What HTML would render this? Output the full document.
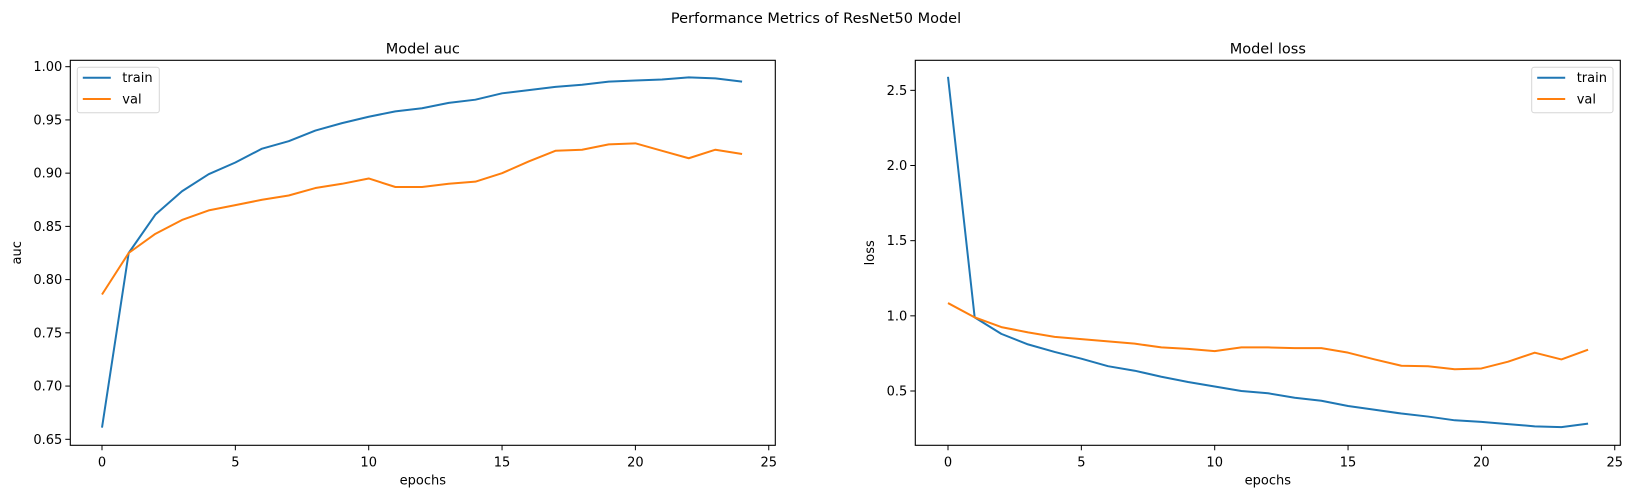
<!DOCTYPE html>
<html><head><meta charset="utf-8"><style>
body{margin:0;background:#fff}
svg{display:block;font-family:"DejaVu Sans","Liberation Sans",sans-serif}
</style></head><body>
<svg id="fig" width="1633" height="498" viewBox="0 0 1633 498" xmlns="http://www.w3.org/2000/svg">
<rect width="1633" height="498" fill="#fff"/>
<text x="816" y="23" font-size="14.5" text-anchor="middle">Performance Metrics of ResNet50 Model</text>
</svg>
<script>
const epochs = [0,1,2,3,4,5,6,7,8,9,10,11,12,13,14,15,16,17,18,19,20,21,22,23,24];
const aucTrain = [0.661,0.825,0.861,0.883,0.899,0.910,0.923,0.930,0.940,0.947,0.953,0.958,0.961,0.966,0.969,0.975,0.978,0.981,0.983,0.986,0.987,0.988,0.990,0.989,0.986];
const aucVal = [0.786,0.825,0.843,0.856,0.865,0.870,0.875,0.879,0.886,0.890,0.895,0.887,0.887,0.890,0.892,0.900,0.911,0.921,0.922,0.927,0.928,0.921,0.914,0.922,0.918];
const lossTrain = [2.59,0.99,0.88,0.81,0.76,0.715,0.665,0.635,0.595,0.56,0.53,0.50,0.485,0.455,0.435,0.400,0.375,0.350,0.330,0.305,0.295,0.280,0.265,0.260,0.283];
const lossVal = [1.085,0.99,0.925,0.89,0.86,0.845,0.83,0.815,0.79,0.78,0.765,0.79,0.79,0.785,0.785,0.755,0.71,0.668,0.665,0.645,0.65,0.695,0.755,0.71,0.775];
const xTicks = [0,5,10,15,20,25];
const aucTicks = [0.65,0.70,0.75,0.80,0.85,0.90,0.95,1.00];
const lossTicks = [0.5,1.0,1.5,2.0,2.5];

const NS="http://www.w3.org/2000/svg";
const svg=document.getElementById('fig');
function mk(tag,attrs,parent){const e=document.createElementNS(NS,tag);for(const k in attrs)e.setAttribute(k,attrs[k]);(parent||svg).appendChild(e);return e;}

function panel(cfg){
  const g=mk('g',{});
  
  
  const xs=v=>cfg.x0+v*cfg.xu;
  const ys=v=>cfg.yRef-(v-cfg.vRef)*cfg.yu;
  // series
  const series=[[cfg.train,'#1f77b4','train-line'],[cfg.val,'#ff7f0e','val-line']];
  series.forEach(([arr,col,nm])=>{
    const p=mk('polyline',{points:arr.map((v,i)=>xs(epochs[i]).toFixed(2)+','+ys(v).toFixed(2)).join(' '),fill:'none',stroke:col,'stroke-width':2,'stroke-linejoin':'round'},g);
    
    
  });
  // frame
  const fr=mk('rect',{x:cfg.L,y:cfg.T,width:cfg.R-cfg.L,height:cfg.B-cfg.T,fill:'none',stroke:'#000','stroke-width':1.1},g);
  
  
  // x ticks
  xTicks.forEach(t=>{
    const x=xs(t);
    mk('line',{x1:x,y1:cfg.B,x2:x,y2:cfg.B+5,stroke:'#000','stroke-width':1},g);
    const tx=mk('text',{x:x,y:cfg.B+21,'font-size':13,'text-anchor':'middle'},g);
    tx.textContent=t;
    
    
  });
  cfg.ticks.forEach(t=>{
    const y=ys(t);
    mk('line',{x1:cfg.L-5,y1:y,x2:cfg.L,y2:y,stroke:'#000','stroke-width':1},g);
    const tx=mk('text',{x:cfg.L-8,y:y+4.5,'font-size':13,'text-anchor':'end'},g);
    tx.textContent=t.toFixed(cfg.dec);
    
    
  });
  const ti=mk('text',{x:(cfg.L+cfg.R)/2,y:cfg.T-7,'font-size':14.5,'text-anchor':'middle'},g);
  ti.textContent=cfg.title;
  
  
  const xl=mk('text',{x:(cfg.L+cfg.R)/2,y:cfg.B+39,'font-size':13,'text-anchor':'middle'},g);
  xl.textContent='epochs';
  
  
  const yl=mk('text',{x:cfg.ylx,y:(cfg.T+cfg.B)/2,'font-size':13,'text-anchor':'middle',transform:`rotate(-90 ${cfg.ylx} ${(cfg.T+cfg.B)/2})`},g);
  yl.textContent=cfg.ylab;
  
  
  // legend
  const lg=mk('g',{},g);
  
  
  mk('rect',{x:cfg.lgx,y:67.3,width:cfg.lgw,height:45.4,rx:2.5,fill:'#fff','fill-opacity':0.8,stroke:'#d6d6d6','stroke-width':1},lg);
  [['train','#1f77b4',77.7],['val','#ff7f0e',99]].forEach(([lab,col,y])=>{
    mk('line',{x1:cfg.lgx+5.5,y1:y,x2:cfg.lgx+33.5,y2:y,stroke:col,'stroke-width':2},lg);
    const t=mk('text',{x:cfg.lgx+45,y:y+4.5,'font-size':13},lg);
    t.textContent=lab;
    
    
  });
}
panel({name:'auc-chart',title:'Model auc',ylab:'auc',L:70.3,R:775.3,T:60.3,B:445.3,x0:102,xu:26.67,yRef:439.3,vRef:0.65,yu:1064.6,train:aucTrain,val:aucVal,ticks:aucTicks,dec:2,ylx:21,lgx:77.3,lgw:82});
panel({name:'loss-chart',title:'Model loss',ylab:'loss',L:915.3,R:1620.3,T:60.3,B:445.3,x0:948,xu:26.67,yRef:391,vRef:0.5,yu:150.33,train:lossTrain,val:lossVal,ticks:lossTicks,dec:1,ylx:874,lgx:1531.7,lgw:81.3});
</script>
</body></html>
